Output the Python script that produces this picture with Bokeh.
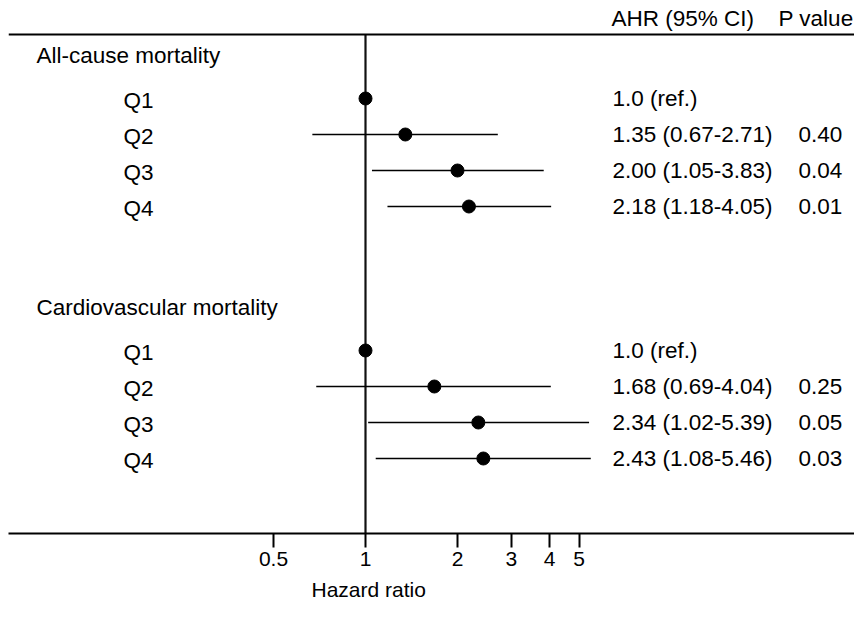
import math
from bokeh.plotting import figure
from bokeh.models import Range1d, FixedTicker, Span, ColumnDataSource, CustomJSTickFormatter, Title
from bokeh.embed import file_html
from bokeh.resources import INLINE
from bokeh.core.properties import value

# ---------------- data ----------------
group_names = ["All-cause mortality", "Cardiovascular mortality"]
quartiles = ["Q1", "Q2", "Q3", "Q4"]

ahr_all = [1.0, 1.35, 2.00, 2.18]
lo_all = [1.0, 0.67, 1.05, 1.18]
hi_all = [1.0, 2.71, 3.83, 4.05]
p_all = ["", "0.40", "0.04", "0.01"]

ahr_cv = [1.0, 1.68, 2.34, 2.43]
lo_cv = [1.0, 0.69, 1.02, 1.08]
hi_cv = [1.0, 4.04, 5.39, 5.46]
p_cv = ["", "0.25", "0.05", "0.03"]

tick_values = [0.5, 1, 2, 3, 4, 5]
header_ci = "AHR (95% CI)"
header_p = "P value"
x_label = "Hazard ratio"

# ---------------- layout ----------------
W, H = 854, 626
FRAME_LEFT = 8
FRAME_H = 533
X1_PX = 365.0           # pixel of HR = 1
PX_PER_DECADE = 305.6
ROW0_PX = 98.0          # pixel of first row
ROW_PX = 36.0

def px2x(px):
    return 10 ** ((px - X1_PX) / PX_PER_DECADE)

def px2row(py):
    return (py - ROW0_PX) / ROW_PX

FONT = "Liberation Sans"

p = figure(width=W, height=H, x_axis_type="log",
           x_range=Range1d(px2x(FRAME_LEFT), px2x(W)),
           y_range=Range1d(px2row(FRAME_H), px2row(0)),
           output_backend="svg", toolbar_location=None,
           y_axis_location=None,
           min_border_left=FRAME_LEFT, min_border_right=0,
           min_border_top=0, min_border_bottom=H - FRAME_H)
p.outline_line_color = None
p.xgrid.visible = False
p.ygrid.visible = False
p.background_fill_color = "white"
p.border_fill_color = "white"

group_start_rows = [0, 7]
group_data = [(ahr_all, lo_all, hi_all, p_all), (ahr_cv, lo_cv, hi_cv, p_cv)]

rows, est, lo, hi, ci_txt, p_txt, q_txt = [], [], [], [], [], [], []
for g, (a, l, h, pv) in enumerate(group_data):
    for i in range(len(quartiles)):
        rows.append(group_start_rows[g] + i)
        est.append(a[i]); lo.append(l[i]); hi.append(h[i])
        if l[i] == h[i]:
            ci_txt.append(f"{a[i]:.1f} (ref.)")
        else:
            ci_txt.append(f"{a[i]:.2f} ({l[i]:.2f}-{h[i]:.2f})")
        p_txt.append(pv[i])
        q_txt.append(quartiles[i])

src = ColumnDataSource(dict(row=rows, est=est, lo=lo, hi=hi, ci=ci_txt, pv=p_txt, q=q_txt))

# top rule and vertical reference line
top_row = px2row(34)
p.add_layout(Span(location=top_row, dimension="width", line_color="black", line_width=2))
p.segment(x0=[1], y0=[top_row], x1=[1], y1=[px2row(FRAME_H)], line_color="#111111", line_width=2.2)

# CI lines and points
p.segment(x0="lo", y0="row", x1="hi", y1="row", source=src, line_color="black", line_width=1.6)
p.scatter(x="est", y="row", source=src, size=13, fill_color="black", line_color="black")

tfont = value(FONT)
tsize = value("22.5px")

# row labels
p.text(x=px2x(123), y=[r + 0.05 for r in rows], text=q_txt, text_font=tfont,
       text_font_size=tsize, text_baseline="middle", text_align="left", text_color="black")
# group titles
p.text(x=px2x(36), y=[r - 1.2 for r in group_start_rows], text=group_names, text_font=tfont,
       text_font_size=tsize, text_baseline="middle", text_align="left", text_color="black")
# CI column
p.text(x=px2x(612), y="row", text="ci", source=src, text_font=tfont,
       text_font_size=tsize, text_baseline="middle", text_align="left", text_color="black")
# P column
p.text(x=px2x(798), y="row", text="pv", source=src, text_font=tfont,
       text_font_size=tsize, text_baseline="middle", text_align="left", text_color="black")
# headers
p.text(x=[px2x(611), px2x(778)], y=[px2row(18)] * 2, text=[header_ci, header_p], text_font=tfont,
       text_font_size=tsize, text_baseline="middle", text_align="left", text_color="black")

# x axis
ax = p.xaxis[0]
ax.ticker = FixedTicker(ticks=tick_values, minor_ticks=[])
ax.formatter = CustomJSTickFormatter(code="return tick.toString();")
ax.axis_line_width = 2
ax.axis_line_color = "black"
ax.major_tick_line_width = 2
ax.major_tick_line_color = "black"
ax.major_tick_out = 14
ax.major_tick_in = 0
ax.minor_tick_line_color = None
ax.major_label_text_font = FONT
ax.major_label_text_font_size = "21px"
ax.major_label_text_color = "black"
ax.major_label_standoff = 4

# x-axis title, placed under HR = 1
p.add_layout(Title(text=x_label, align="left", offset=303, standoff=14,
                   text_font=FONT, text_font_size="21px", text_font_style="normal",
                   text_color="black"), "below")

open("out.html", "w").write(file_html(p, INLINE))
